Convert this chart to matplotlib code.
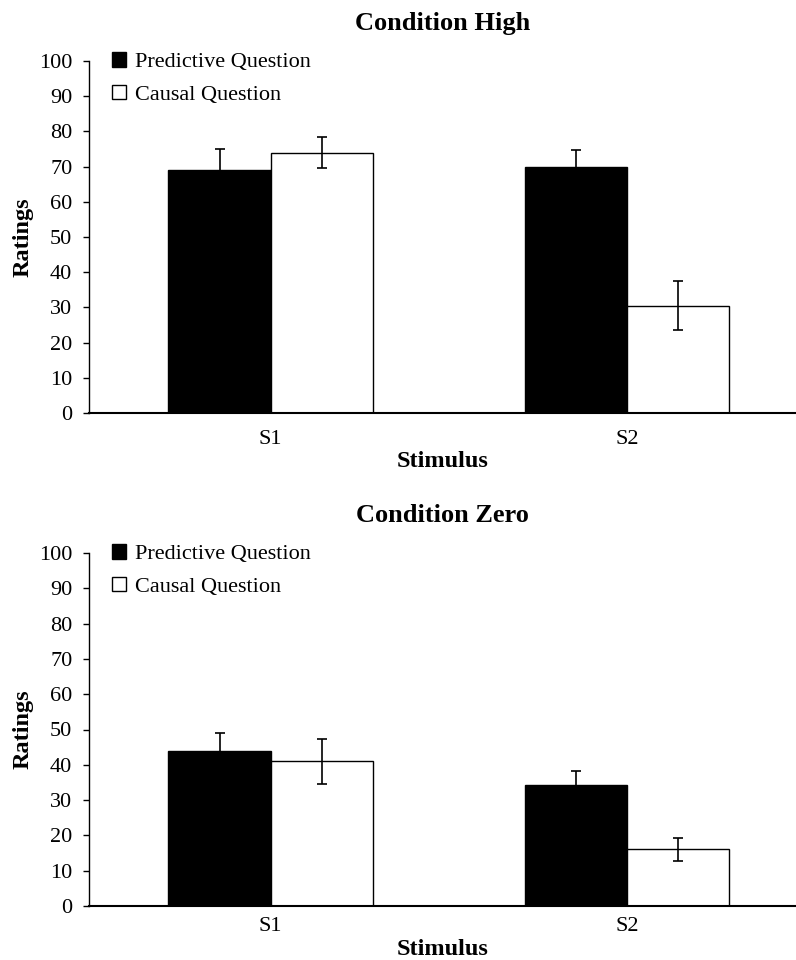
import numpy as np
import matplotlib
matplotlib.use("Agg")
import matplotlib.pyplot as plt
from matplotlib.patches import Patch

plt.rcParams['font.family'] = ['Liberation Serif', 'DejaVu Serif']

# ------- donnees -------
stimuli = ["S1", "S2"]
series = ["Predictive Question", "Causal Question"]

high_pred = [69, 69.8]
high_pred_err = [6, 5]
high_caus = [74, 30.5]
high_caus_err = [4.5, 7]

zero_pred = [43.9, 34.2]
zero_pred_err = [5, 4]
zero_caus = [41, 16.1]
zero_caus_err = [6.4, 3.3]
# ------------------------------------------

W, H = 796, 960
fig = plt.figure(figsize=(W/100, H/100), dpi=100)

barw = 0.287
x = np.arange(len(stimuli))


def panel(rect, title, pred, pred_err, caus, caus_err, xpad):
    ax = fig.add_axes(rect)
    ax.bar(x - barw/2, pred, barw, color="black", edgecolor="black", linewidth=1)
    ax.bar(x + barw/2, caus, barw, color="white", edgecolor="black", linewidth=1)
    ax.errorbar(x - barw/2, pred, yerr=pred_err, fmt="none", ecolor="black",
                elinewidth=1.2, capsize=3.5, capthick=1.2)
    ax.errorbar(x + barw/2, caus, yerr=caus_err, fmt="none", ecolor="black",
                elinewidth=1.2, capsize=3.5, capthick=1.2)

    ax.set_xlim(-0.51, 1.475)
    ax.set_ylim(0, 100)
    ax.set_yticks(np.arange(0, 101, 10))
    ax.set_xticks(x)
    ax.set_xticklabels(stimuli)
    ax.tick_params(axis="y", direction="out", length=4, width=1, labelsize=16, pad=8)
    ax.tick_params(axis="x", length=0, labelsize=16, pad=xpad)

    for s in ["top", "right"]:
        ax.spines[s].set_visible(False)
    ax.spines["left"].set_bounds(0, 100)
    ax.spines["left"].set_linewidth(1)
    ax.spines["bottom"].set_linewidth(1.5)

    ax.set_title(title, fontsize=19, fontweight="bold", pad=22)
    ax.set_xlabel("Stimulus", fontsize=17.5, fontweight="bold", labelpad=2)
    ax.set_ylabel("Ratings", fontsize=17.5, fontweight="bold", labelpad=4)

    handles = [Patch(facecolor="black", edgecolor="black"),
               Patch(facecolor="white", edgecolor="black")]
    ax.legend(handles, series, loc="upper left", bbox_to_anchor=(0.032, 1.025),
              frameon=False, fontsize=16, handlelength=0.65, handleheight=0.65,
              handletextpad=0.4, labelspacing=0.55, borderpad=0, borderaxespad=0)
    return ax


left = 89/W
width = 1 - left
panel([left, 1 - 413/H, width, (413 - 61)/H], "Condition High",
      high_pred, high_pred_err, high_caus, high_caus_err, 12)
panel([left, 1 - 906/H, width, (906 - 553)/H], "Condition Zero",
      zero_pred, zero_pred_err, zero_caus, zero_caus_err, 8)

fig.savefig("out.png", dpi=100)
